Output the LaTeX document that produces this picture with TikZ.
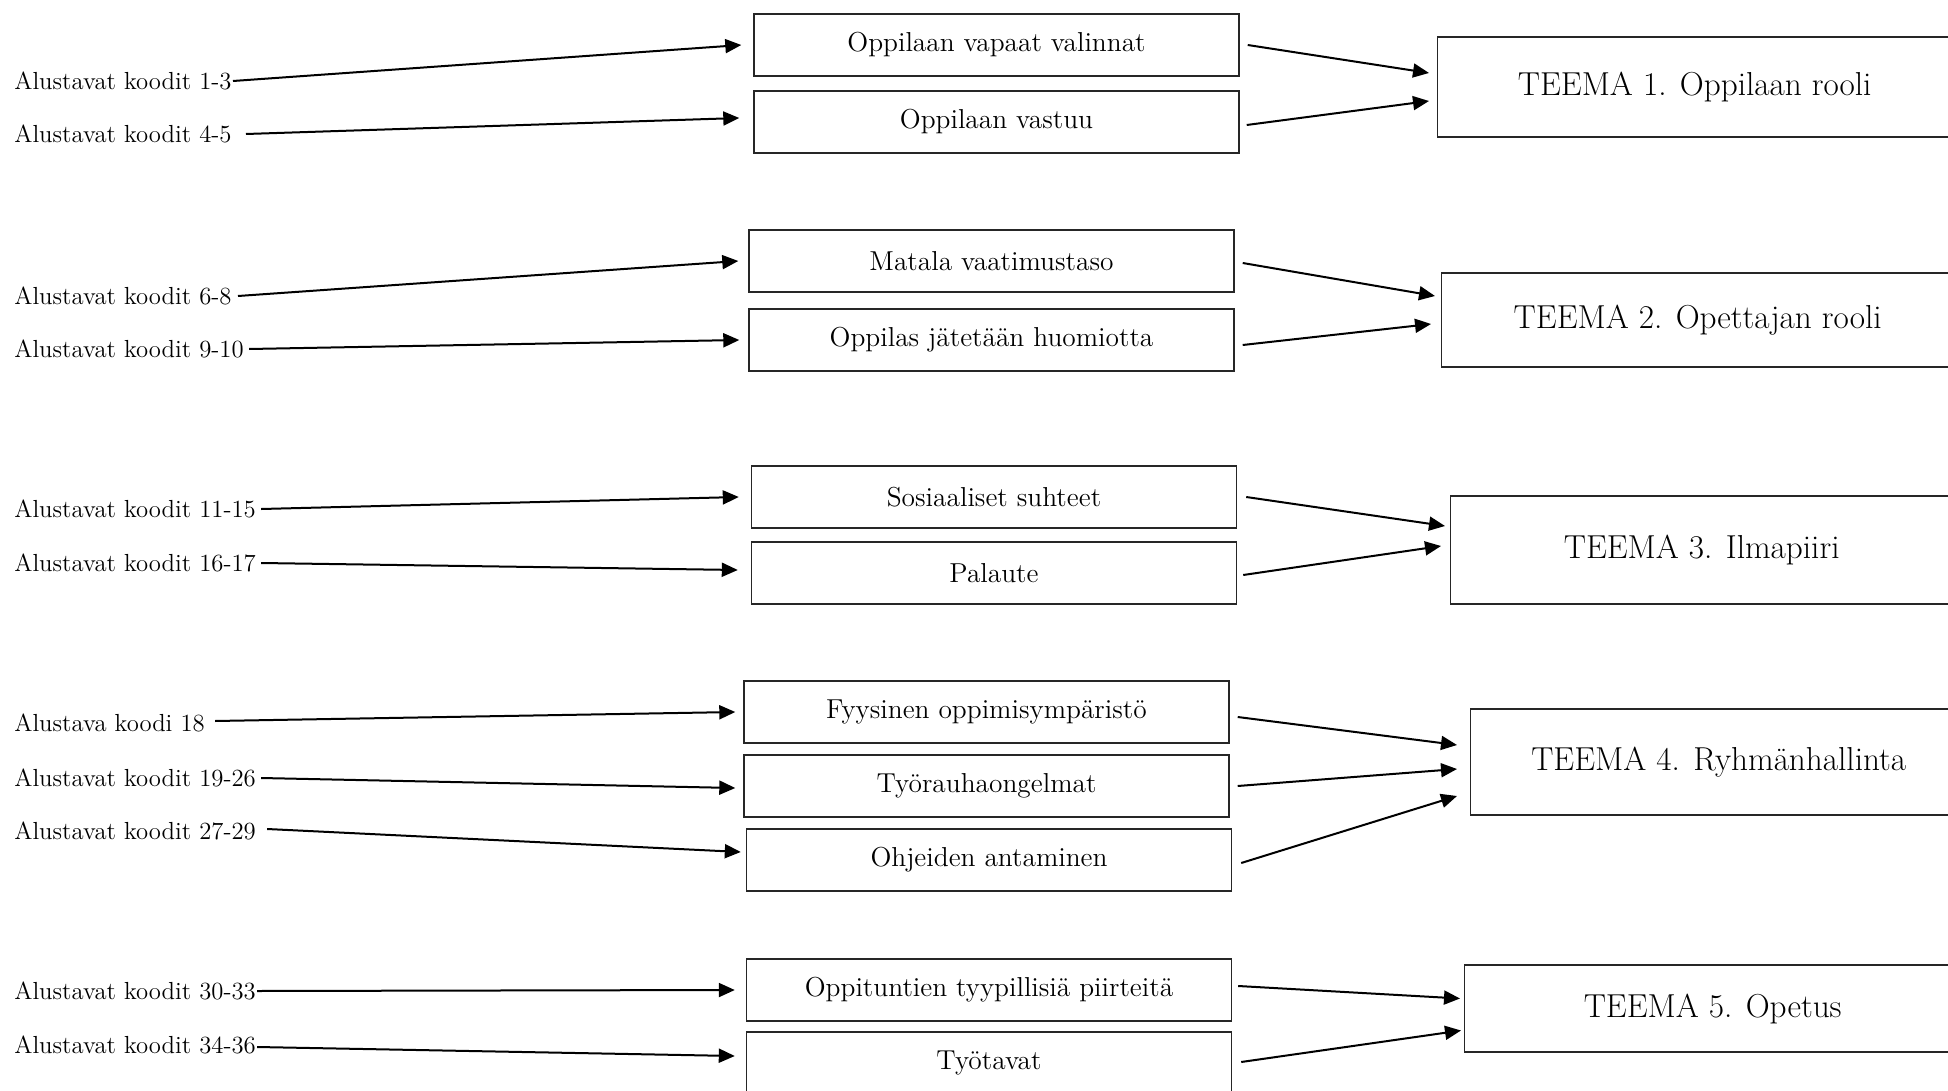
\documentclass[tikz,border=0pt]{standalone}
\usepackage{fontspec}
\usetikzlibrary{arrows.meta}

\begin{document}
\begin{tikzpicture}[x=0.5pt,y=-0.5pt,
    koodi/.style={anchor=west, inner sep=0pt, font=\fontsize{12.35}{14}\selectfont},
    luokka/.style={draw=black!85, line width=0.7pt, minimum width=242.5pt, minimum height=31pt, inner sep=0pt, font=\fontsize{13.7}{15}\selectfont},
    teema/.style={draw=black!85, line width=0.7pt, anchor=west, inner sep=0pt, font=\fontsize{16.6}{19}\selectfont},
    nuoli/.style={-{Triangle[length=8pt,width=7pt]}, line width=1pt}]

    % picture frame (the theme boxes run past the right edge)
    \clip (0,0) rectangle (1948,1091);

    % Preliminary codes on the left
    \node[koodi] (k1) at (14,81) {Alustavat koodit 1-3};
    \node[koodi] (k2) at (14,134) {Alustavat koodit 4-5};
    \node[koodi] (k3) at (14,296) {Alustavat koodit 6-8};
    \node[koodi] (k4) at (14,349) {Alustavat koodit 9-10};
    \node[koodi] (k5) at (14,509) {Alustavat koodit 11-15};
    \node[koodi] (k6) at (14,563) {Alustavat koodit 16-17};
    \node[koodi] (k7) at (14,723) {Alustava koodi 18};
    \node[koodi] (k8) at (14,778) {Alustavat koodit 19-26};
    \node[koodi] (k9) at (14,831) {Alustavat koodit 27-29};
    \node[koodi] (k10) at (14,991) {Alustavat koodit 30-33};
    \node[koodi] (k11) at (14,1045) {Alustavat koodit 34-36};

    % Categories in the middle
    \node[luokka] (b1) at (996.5,45) {Oppilaan vapaat valinnat};
    \node[luokka] (b2) at (996.5,122) {Oppilaan vastuu};
    \node[luokka] (b3) at (991.5,261) {Matala vaatimustaso};
    \node[luokka] (b4) at (991.5,340) {Oppilas jätetään huomiotta};
    \node[luokka] (b5) at (994,497) {Sosiaaliset suhteet};
    \node[luokka] (b6) at (994,573) {Palaute};
    \node[luokka] (b7) at (986.5,712) {Fyysinen oppimisympäristö};
    \node[luokka] (b8) at (986.5,786) {Työrauhaongelmat};
    \node[luokka] (b9) at (989,860) {Ohjeiden antaminen};
    \node[luokka] (b10) at (989,990) {Oppituntien tyypillisiä piirteitä};
    \node[luokka] (b11) at (989,1063) {Työtavat};

    % Themes on the right
    \node[teema, minimum width=257pt, minimum height=50pt] (t1) at (1437,87) {TEEMA 1. Oppilaan rooli};
    \node[teema, minimum width=256pt, minimum height=47pt] (t2) at (1441,320) {TEEMA 2. Opettajan rooli};
    \node[teema, minimum width=251pt, minimum height=54pt] (t3) at (1450,550) {TEEMA 3. Ilmapiiri};
    \node[teema, minimum width=248pt, minimum height=53pt] (t4) at (1470,762) {TEEMA 4. Ryhmänhallinta};
    \node[teema, minimum width=248pt, minimum height=43.5pt] (t5) at (1464,1008.5) {TEEMA 5. Opetus};

    % codes -> categories
    \draw[nuoli] ([xshift=0.5pt]k1.east) -- ([xshift=-6pt]b1.west);
    \draw[nuoli] ([xshift=7pt]k2.east) -- ([xshift=-7pt,yshift=2pt]b2.west);
    \draw[nuoli] ([xshift=3pt]k3.east) -- ([xshift=-5pt]b3.west);
    \draw[nuoli] ([xshift=2.5pt]k4.east) -- ([xshift=-4.5pt]b4.west);
    \draw[nuoli] ([xshift=2.5pt]k5.east) -- ([xshift=-6pt]b5.west);
    \draw[nuoli] ([xshift=2.5pt]k6.east) -- ([xshift=-6.5pt,yshift=1.5pt]b6.west);
    \draw[nuoli] ([xshift=5pt,yshift=1pt]k7.east) -- ([xshift=-4pt]b7.west);
    \draw[nuoli] ([xshift=2.5pt]k8.east) -- ([xshift=-4pt,yshift=-1pt]b8.west);
    \draw[nuoli] ([xshift=5.5pt,yshift=1pt]k9.east) -- ([xshift=-2.5pt,yshift=4pt]b9.west);
    \draw[nuoli] ([xshift=0.5pt]k10.east) -- ([xshift=-5.5pt]b10.west);
    \draw[nuoli] ([xshift=0.5pt,yshift=-1pt]k11.east) -- ([xshift=-5.5pt,yshift=3.5pt]b11.west);

    % categories -> themes
    \draw[nuoli] ([xshift=4pt]b1.east) -- ([xshift=-4pt,yshift=7pt]t1.west);
    \draw[nuoli] ([xshift=3.5pt,yshift=-1.5pt]b2.east) -- ([xshift=-4pt,yshift=-7pt]t1.west);
    \draw[nuoli] ([xshift=4pt,yshift=-1pt]b3.east) -- ([xshift=-3pt,yshift=12pt]t2.west);
    \draw[nuoli] ([xshift=4pt,yshift=-2.5pt]b4.east) -- ([xshift=-5pt,yshift=-2pt]t2.west);
    \draw[nuoli] ([xshift=4.5pt]b5.east) -- ([xshift=-2.5pt,yshift=12pt]t3.west);
    \draw[nuoli] ([xshift=3pt,yshift=-1pt]b6.east) -- ([xshift=-4.5pt,yshift=2pt]t3.west);
    \draw[nuoli] ([xshift=4pt,yshift=-2.5pt]b7.east) -- ([xshift=-6.5pt,yshift=8.5pt]t4.west);
    \draw[nuoli] ([xshift=4pt]b8.east) -- ([xshift=-6.5pt,yshift=-3.5pt]t4.west);
    \draw[nuoli] ([xshift=4.5pt,yshift=-1.5pt]b9.east) -- ([xshift=-6.5pt,yshift=-17pt]t4.west);
    \draw[nuoli] ([xshift=3pt,yshift=2pt]b10.east) -- ([xshift=-2pt,yshift=5pt]t5.west);
    \draw[nuoli] ([xshift=4.5pt,yshift=0.5pt]b11.east) -- ([xshift=-1.5pt,yshift=-11pt]t5.west);

\end{tikzpicture}
\end{document}
